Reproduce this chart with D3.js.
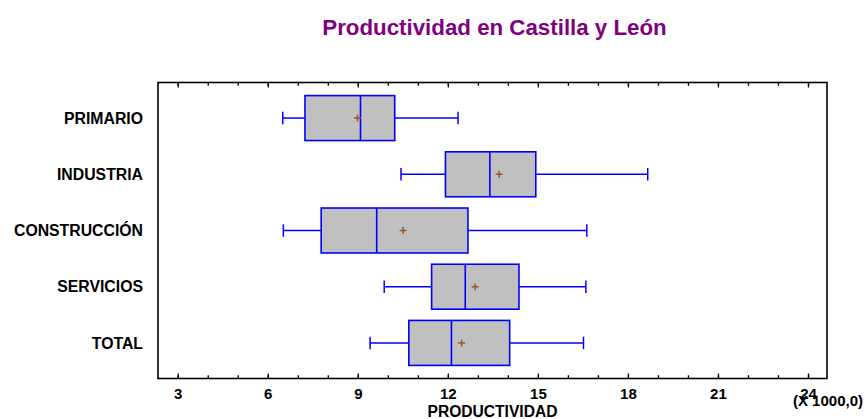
<!DOCTYPE html>
<html>
<head>
<meta charset="utf-8">
<script src="https://cdn.jsdelivr.net/npm/d3@7"></script>
<style>
  html, body { margin: 0; padding: 0; background: #fff; }
  svg { display: block; }
  text { font-family: "Liberation Sans", Arial, sans-serif; font-weight: bold; }
</style>
</head>
<body>
<svg id="chart" width="865" height="419"></svg>
<script>
// ---- data (values in thousands) ----
const categories  = ["PRIMARIO", "INDUSTRIA", "CONSTRUCCIÓN", "SERVICIOS", "TOTAL"];
const whiskerLow  = [6.50, 10.44, 6.52, 9.88, 9.41];
const q1          = [7.24, 11.92, 7.78, 11.46, 10.70];
const median      = [9.09, 13.40, 9.63, 12.58, 12.12];
const mean        = [8.99, 13.71, 10.51, 12.91, 12.46];
const q3          = [10.23, 14.93, 12.67, 14.37, 14.06];
const whiskerHigh = [12.34, 18.66, 16.63, 16.60, 16.52];
const majorTicks  = [3, 6, 9, 12, 15, 18, 21, 24];
const minorTicks  = d3.range(3, 25, 1);
const title       = "Productividad en Castilla y León";
const xTitle      = "PRODUCTIVIDAD";
const xUnit       = "(X 1000,0)";

const rows = categories.map((c, i) => ({
  cat: c, lo: whiskerLow[i], q1: q1[i], med: median[i], mean: mean[i], q3: q3[i], hi: whiskerHigh[i]
}));

// ---- layout ----
const L = 158, R = 827, T = 82.5, B = 378.5;
const svg = d3.select("#chart");

const x = d3.scaleLinear().domain([2.343, 24.633]).range([L, R]);
const y = d3.scaleBand().domain(categories).range([T, B]).paddingInner(0.2).paddingOuter(0.233);

// title
svg.append("text").attr("x", 494.5).attr("y", 34.5).attr("text-anchor", "middle")
  .attr("font-size", 22.3).attr("fill", "#800080").text(title);

// frame
svg.append("rect").attr("x", L).attr("y", T).attr("width", R - L).attr("height", B - T)
  .attr("fill", "none").attr("stroke", "#000").attr("stroke-width", 1.6);

// ticks bottom (inward)
const gB = svg.append("g").attr("transform", `translate(0,${B})`);
gB.call(d3.axisBottom(x).tickValues(minorTicks).tickSize(-3.3).tickFormat(""));
const gBM = svg.append("g").attr("transform", `translate(0,${B})`);
gBM.call(d3.axisBottom(x).tickValues(majorTicks).tickSize(-5).tickPadding(9.5).tickFormat(d3.format("d")));
// ticks top (inward)
const gT = svg.append("g").attr("transform", `translate(0,${T})`);
gT.call(d3.axisTop(x).tickValues(minorTicks).tickSize(-3.3).tickFormat(""));
const gTM = svg.append("g").attr("transform", `translate(0,${T})`);
gTM.call(d3.axisTop(x).tickValues(majorTicks).tickSize(-5).tickFormat(""));

svg.selectAll(".domain").remove();
svg.selectAll(".tick line").attr("stroke", "#000").attr("stroke-width", 1.3);
gBM.selectAll(".tick text").attr("font-size", 15).attr("fill", "#000")
  .attr("font-family", '"Liberation Sans", Arial, sans-serif').attr("font-weight", "bold");

// x axis titles
svg.append("text").attr("x", (L + R) / 2).attr("y", 416.5).attr("text-anchor", "middle")
  .attr("font-size", 15.6).attr("fill", "#000").text(xTitle);
svg.append("text").attr("x", 863).attr("y", 406).attr("text-anchor", "end")
  .attr("font-size", 15).attr("fill", "#000").text(xUnit);

// category labels
svg.append("g").selectAll("text").data(categories).join("text")
  .attr("x", 143).attr("y", d => y(d) + y.bandwidth() / 2).attr("dy", "0.36em")
  .attr("text-anchor", "end").attr("font-size", 15.8).attr("fill", "#000").text(d => d);

// boxes
const blue = "#0000ff";
const g = svg.append("g").selectAll("g").data(rows).join("g");
const cy = d => y(d.cat) + y.bandwidth() / 2;
const capH = 12.5;

g.append("line").attr("x1", d => x(d.lo)).attr("x2", d => x(d.q1))
  .attr("y1", cy).attr("y2", cy).attr("stroke", blue).attr("stroke-width", 1.5);
g.append("line").attr("x1", d => x(d.q3)).attr("x2", d => x(d.hi))
  .attr("y1", cy).attr("y2", cy).attr("stroke", blue).attr("stroke-width", 1.5);
g.append("line").attr("x1", d => x(d.lo)).attr("x2", d => x(d.lo))
  .attr("y1", d => cy(d) - capH / 2).attr("y2", d => cy(d) + capH / 2).attr("stroke", blue).attr("stroke-width", 1.5);
g.append("line").attr("x1", d => x(d.hi)).attr("x2", d => x(d.hi))
  .attr("y1", d => cy(d) - capH / 2).attr("y2", d => cy(d) + capH / 2).attr("stroke", blue).attr("stroke-width", 1.5);

g.append("rect").attr("x", d => x(d.q1)).attr("y", d => y(d.cat))
  .attr("width", d => x(d.q3) - x(d.q1)).attr("height", y.bandwidth())
  .attr("fill", "#c0c0c0").attr("stroke", blue).attr("stroke-width", 1.6);
g.append("line").attr("x1", d => x(d.med)).attr("x2", d => x(d.med))
  .attr("y1", d => y(d.cat)).attr("y2", d => y(d.cat) + y.bandwidth())
  .attr("stroke", blue).attr("stroke-width", 1.6);

// mean markers (+)
const m = 3.5;
g.append("path")
  .attr("d", d => `M${x(d.mean) - m},${cy(d)}H${x(d.mean) + m}M${x(d.mean)},${cy(d) - m}V${cy(d) + m}`)
  .attr("stroke", "#a0522d").attr("stroke-width", 1.5).attr("fill", "none");
</script>
</body>
</html>
